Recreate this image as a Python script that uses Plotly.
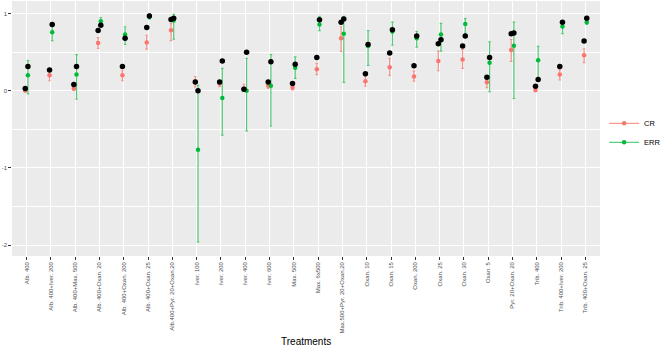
import plotly.graph_objects as go

categories = ["Alb. 400", "Alb. 400+Iver. 200", "Alb. 400+Max. 500", "Alb. 400+Oxan. 20",
              "Alb. 400+Oxan. 200", "Alb. 400+Oxan. 25", "Alb.400+Pyr. 20+Oxan.20", "Iver. 100",
              "Iver. 200", "Iver. 400", "Iver. 600", "Max. 500", "Max. 6x500",
              "Max.500+Pyr. 20+Oxan.20", "Oxan. 10", "Oxan. 15", "Oxan. 200", "Oxan. 25",
              "Oxan. 30", "Oxan. 5", "Pyr. 20+Oxan. 20", "Trib. 400", "Trib. 400+Iver. 200",
              "Trib. 400+Oxan. 25"]

cr_val = [0.005, 0.20, 0.03, 0.62, 0.20, 0.625, 0.785, 0.12, 0.095, 0.03, 0.065, 0.04,
          0.28, 0.68, 0.125, 0.305, 0.185, 0.385, 0.405, 0.11, 0.53, 0.01, 0.21, 0.46]
cr_lo = [-0.015, 0.13, 0.005, 0.55, 0.13, 0.54, 0.65, 0.05, 0.055, 0.0, 0.03, 0.01,
         0.21, 0.51, 0.06, 0.20, 0.125, 0.26, 0.29, 0.04, 0.38, -0.01, 0.14, 0.365]
cr_hi = [0.025, 0.255, 0.06, 0.69, 0.26, 0.72, 0.87, 0.185, 0.13, 0.085, 0.10, 0.07,
         0.355, 0.83, 0.19, 0.42, 0.255, 0.515, 0.535, 0.145, 0.665, 0.04, 0.27, 0.545]

err_val = [0.20, 0.76, 0.21, 0.90, 0.73, 0.96, 0.91, -0.765, -0.095, 0.0, 0.065, 0.30,
           0.86, 0.74, 0.58, 0.77, 0.68, 0.73, 0.865, 0.365, 0.585, 0.395, 0.835, 0.89]
err_lo = [-0.04, 0.65, -0.11, 0.87, 0.60, 0.93, 0.67, -1.96, -0.575, -0.52, -0.46, 0.16,
          0.78, 0.11, 0.33, 0.59, 0.565, 0.515, 0.74, -0.01, -0.10, 0.17, 0.74, 0.86]
err_hi = [0.39, 0.87, 0.47, 0.95, 0.83, 1.0, 0.99, 0.07, 0.29, 0.42, 0.47, 0.44,
          0.965, 0.965, 0.78, 0.89, 0.77, 0.875, 0.935, 0.635, 0.89, 0.575, 0.91, 0.965]

obs_cr = [0.03, 0.27, 0.08, 0.78, 0.315, 0.82, 0.925, 0.115, 0.115, 0.02, 0.115, 0.095,
          0.43, 0.89, 0.22, 0.49, 0.325, 0.61, 0.58, 0.175, 0.74, 0.06, 0.315, 0.645]
obs_err = [0.315, 0.86, 0.315, 0.85, 0.68, 0.97, 0.94, 0.0, 0.385, 0.50, 0.375, 0.345,
           0.92, 0.93, 0.60, 0.79, 0.71, 0.66, 0.71, 0.43, 0.75, 0.145, 0.89, 0.94]

RED = "#F8766D"
GREEN = "#00BA38"
dodge = 0.055
idx = list(range(len(categories)))
x_cr = [i - dodge for i in idx]
x_err = [i + dodge for i in idx]

fig = go.Figure()

def add_series(xs, vals, lo, hi, color, bar_color):
    fig.add_trace(go.Scatter(
        x=xs, y=vals, mode="markers", showlegend=False,
        marker=dict(color=color, size=4.5),
        error_y=dict(type="data", symmetric=False,
                     array=[h - v for h, v in zip(hi, vals)],
                     arrayminus=[v - l for v, l in zip(vals, lo)],
                     color=bar_color, thickness=1.2, width=1.3),
        hoverinfo="skip"))

add_series(x_cr, cr_val, cr_lo, cr_hi, RED, "rgba(248,118,109,0.75)")
add_series(x_err, err_val, err_lo, err_hi, GREEN, "rgba(0,186,56,0.65)")

fig.add_trace(go.Scatter(x=x_cr, y=obs_cr, mode="markers", showlegend=False,
                         marker=dict(color="black", size=5.5), hoverinfo="skip"))
fig.add_trace(go.Scatter(x=x_err, y=obs_err, mode="markers", showlegend=False,
                         marker=dict(color="black", size=5.5), hoverinfo="skip"))

# legend entries
fig.add_trace(go.Scatter(x=[None], y=[None], mode="lines+markers", name="CR",
                         line=dict(color="rgba(248,118,109,0.75)", width=1.2),
                         marker=dict(color=RED, size=4.5)))
fig.add_trace(go.Scatter(x=[None], y=[None], mode="lines+markers", name="ERR",
                         line=dict(color="rgba(0,186,56,0.65)", width=1.2),
                         marker=dict(color=GREEN, size=4.5)))

font_family = "Liberation Sans, Arial, sans-serif"

fig.update_layout(
    width=667, height=346,
    margin=dict(l=12, r=55, t=1, b=90),
    paper_bgcolor="white", plot_bgcolor="#EBEBEB",
    font=dict(family=font_family, color="#4D4D4D", size=6),
    legend=dict(x=1.007, xanchor="left", y=0.483, yanchor="middle",
                font=dict(size=7.5, color="black"), bgcolor="rgba(0,0,0,0)",
                tracegroupgap=0, itemwidth=30),
    xaxis=dict(
        range=[-0.6, len(categories) - 0.4],
        tickmode="array", tickvals=idx, ticktext=categories,
        tickangle=-90, tickfont=dict(size=6, color="#4D4D4D"),
        showgrid=True, gridcolor="white", gridwidth=1.1,
        ticks="outside", ticklen=2.7, tickwidth=1, tickcolor="#333333",
        zeroline=False, showline=False, automargin=False,
    ),
    yaxis=dict(
        range=[-2.142, 1.164],
        tickvals=[-2, -1, 0, 1], ticktext=["-2", "-1", "0", "1"],
        tickfont=dict(size=6, color="#4D4D4D"),
        showgrid=True, gridcolor="white", gridwidth=1.1,
        ticks="outside", ticklen=2.7, tickwidth=1, tickcolor="#333333",
        zeroline=False, showline=False, automargin=False,
        minor=dict(tickvals=[-1.5, -0.5, 0.5], showgrid=True, gridcolor="white",
                   gridwidth=0.5, ticklen=0),
    ),
    annotations=[dict(text="Treatments", xref="paper", yref="paper", x=0.5, y=-0.335,
                      xanchor="center", yanchor="middle", showarrow=False,
                      font=dict(size=10, color="black", family=font_family))],
)

fig.write_html("out.html", config={"displayModeBar": False},
               post_script="document.body.style.margin='0';")
